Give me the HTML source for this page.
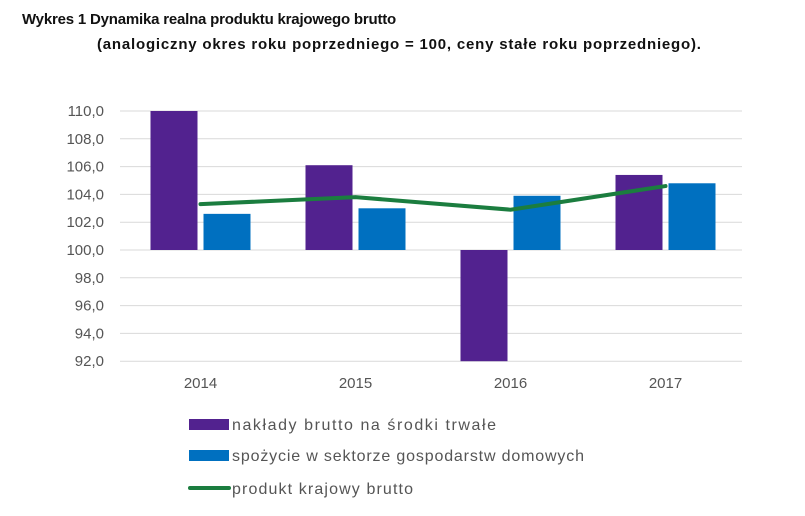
<!DOCTYPE html>
<html><head><meta charset="utf-8">
<style>
body{margin:0;background:#fff;font-family:"Liberation Sans",sans-serif;}
#wrap{position:relative;width:805px;height:516px;overflow:hidden;}
.t{position:absolute;font-weight:bold;font-size:15px;color:#111;white-space:nowrap;}
</style></head><body>
<div id="wrap">
<div class="t" style="left:22px;top:11px;letter-spacing:-0.2px;">Wykres 1 Dynamika realna produktu krajowego brutto</div>
<div class="t" style="left:97px;top:36px;letter-spacing:0.8px;">(analogiczny okres roku poprzedniego = 100, ceny stałe roku poprzedniego).</div>
<svg id="svg" width="805" height="516" style="position:absolute;left:0;top:0"></svg>
</div>
<script>
const categories=["2014","2015","2016","2017"];
const naklady=[110.0,106.1,92.0,105.4];
const spozycie=[102.6,103.0,103.9,104.8];
const pkb=[103.3,103.8,102.9,104.6];
const yTicks=[92,94,96,98,100,102,104,106,108,110];
const legendLabels=["nakłady brutto na środki trwałe","spożycie w sektorze gospodarstw domowych","produkt krajowy brutto"];
const NS="http://www.w3.org/2000/svg";
const svg=document.getElementById('svg');
const y=v=>250-(v-100)*(250-111)/10;
const band=155, x0=122;
const cx=i=>x0+band*(i+0.5)+1;
function mk(t,a){const e=document.createElementNS(NS,t);for(const k in a)e.setAttribute(k,a[k]);svg.appendChild(e);return e;}
yTicks.forEach(v=>{
 const g=mk('line',{x1:120,x2:742,y1:y(v),y2:y(v),stroke:'#d9d9d9','stroke-width':1});
 
 
 const t=mk('text',{x:104,y:y(v)+5,'text-anchor':'end','font-size':15,fill:'#555','font-family':'Liberation Sans, sans-serif'});
 t.textContent=v.toFixed(1).replace('.',',');
 
 
});
categories.forEach((c,i)=>{
 const t=mk('text',{x:cx(i),y:388,'text-anchor':'middle','font-size':15,fill:'#555','font-family':'Liberation Sans, sans-serif'});
 t.textContent=c;
 
 
 const bw=47;
 const a=naklady[i], b=spozycie[i];
 const r1=mk('rect',{x:cx(i)-bw-3,y:Math.min(y(a),y(100)),width:bw,height:Math.abs(y(a)-y(100)),fill:'#52228f'});
 
 
 const r2=mk('rect',{x:cx(i)+3,y:Math.min(y(b),y(100)),width:bw,height:Math.abs(y(b)-y(100)),fill:'#0070c0'});
 
 
});
const pl=mk('polyline',{points:pkb.map((v,i)=>cx(i)+','+y(v)).join(' '),fill:'none',stroke:'#1b7d3f','stroke-width':4,'stroke-linecap':'round'});


const ly=[424,455,488];
const lw=[264,352,181];
const cols=['#52228f','#0070c0','#1b7d3f'];
legendLabels.forEach((l,i)=>{
 let s;
 if(i<2){s=mk('rect',{x:189,y:ly[i]-5,width:40,height:11,fill:cols[i]});}
 else{s=mk('line',{x1:190,x2:229,y1:ly[i],y2:ly[i],stroke:cols[i],'stroke-width':4,'stroke-linecap':'round'});}
 
 
 const t=mk('text',{x:232,y:ly[i]+6,'font-size':16,fill:'#555','font-family':'Liberation Sans, sans-serif',textLength:lw[i],lengthAdjust:'spacing'});
 t.textContent=l;
 
 
});
</script>
</body></html>
